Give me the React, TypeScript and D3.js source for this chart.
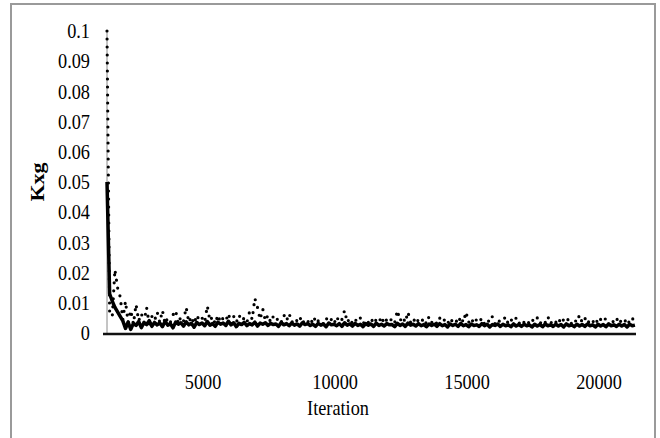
import React from "react";
import * as d3 from "d3";

// x categories (iterations), one point every 100 iterations
const iterations: number[] = d3.range(1360, 21361, 100);

const xTicks = [5000, 10000, 15000, 20000];
const yTicks = [0, 0.01, 0.02, 0.03, 0.04, 0.05, 0.06, 0.07, 0.08, 0.09, 0.1];
const yTickLabels = ["0", "0.01", "0.02", "0.03", "0.04", "0.05", "0.06", "0.07", "0.08", "0.09", "0.1"];

// dotted series
const dottedValues: number[] = [
  0.1, 0.0065, 0.0055, 0.021, 0.015, 0.012, 0.0045, 0.0105, 0.0035, 0.0075,
  0.003, 0.0095, 0.004, 0.0065, 0.0035, 0.0085, 0.003, 0.0055, 0.004, 0.007,
  0.0035, 0.0075, 0.003, 0.005, 0.0035, 0.006, 0.0075, 0.003, 0.0055, 0.004,
  0.0085, 0.0035, 0.0055, 0.003, 0.006, 0.004, 0.005, 0.0035, 0.009, 0.004,
  0.0055, 0.003, 0.006, 0.0035, 0.005, 0.004, 0.0065, 0.003, 0.0055, 0.0035,
  0.006, 0.004, 0.005, 0.0035, 0.007, 0.0045, 0.0115, 0.0085, 0.0045, 0.008,
  0.004, 0.006, 0.0035, 0.0055, 0.004, 0.005, 0.0035, 0.006, 0.004, 0.0065,
  0.0035, 0.005, 0.004, 0.0055, 0.003, 0.0045, 0.0035, 0.005, 0.003, 0.0055,
  0.004, 0.0045, 0.003, 0.005, 0.0035, 0.0045, 0.003, 0.0055, 0.0035, 0.0045,
  0.0075, 0.0035, 0.005, 0.003, 0.0045, 0.0035, 0.005, 0.003, 0.0045, 0.0035,
  0.005, 0.003, 0.0045, 0.0035, 0.0055, 0.003, 0.0045, 0.0035, 0.005, 0.0035,
  0.0075, 0.004, 0.0055, 0.0035, 0.007, 0.0035, 0.005, 0.003, 0.0045, 0.0035,
  0.005, 0.003, 0.0055, 0.0035, 0.0045, 0.003, 0.005, 0.0035, 0.0045, 0.003,
  0.005, 0.0035, 0.0045, 0.003, 0.0055, 0.0035, 0.007, 0.0035, 0.005, 0.003,
  0.0045, 0.0035, 0.005, 0.003, 0.0045, 0.0035, 0.0055, 0.003, 0.0045, 0.0035,
  0.004, 0.0055, 0.003, 0.0045, 0.0035, 0.005, 0.003, 0.0045, 0.0035, 0.0045,
  0.003, 0.0045, 0.0035, 0.005, 0.003, 0.0045, 0.0035, 0.0055, 0.003, 0.0045,
  0.0035, 0.005, 0.003, 0.0045, 0.0035, 0.005, 0.003, 0.0045, 0.0035, 0.006,
  0.0035, 0.005, 0.003, 0.0045, 0.0035, 0.005, 0.003, 0.0045, 0.0035, 0.005,
  0.003, 0.0045, 0.0035, 0.005, 0.003, 0.0045, 0.0035, 0.005, 0.003, 0.0045,
  0.0055,
];

// solid series
const solidValues: number[] = [
  0.05, 0.013, 0.0105, 0.0085, 0.007, 0.0055, 0.004, 0.0015, 0.0036, 0.0012,
  0.0032, 0.0025, 0.0038, 0.0018, 0.0034, 0.0028, 0.0041, 0.0022, 0.0035, 0.0027,
  0.0033, 0.0021, 0.0039, 0.0026, 0.0031, 0.0017, 0.0036, 0.0029, 0.0034, 0.0023,
  0.0037, 0.0027, 0.0032, 0.0019, 0.0035, 0.0028, 0.0033, 0.0024, 0.0038, 0.0026,
  0.0031, 0.0022, 0.0036, 0.0029, 0.0033, 0.0025, 0.0039, 0.0027, 0.0034, 0.0021,
  0.0032, 0.0028, 0.0035, 0.0024, 0.0031, 0.0027, 0.0036, 0.0023, 0.0033, 0.0029,
  0.0034, 0.0025, 0.0032, 0.0028, 0.003, 0.0022, 0.0035, 0.0027, 0.0031, 0.0024,
  0.0033, 0.0026, 0.003, 0.0023, 0.0034, 0.0028, 0.0031, 0.0025, 0.0029, 0.0022,
  0.0032, 0.0026, 0.003, 0.0021, 0.0033, 0.0027, 0.0029, 0.0024, 0.0031, 0.0022,
  0.0034, 0.0026, 0.003, 0.0023, 0.0032, 0.0025, 0.0029, 0.0021, 0.0031, 0.0026,
  0.003, 0.0022, 0.0033, 0.0025, 0.0029, 0.0023, 0.0031, 0.0027, 0.0028, 0.0021,
  0.0032, 0.0025, 0.003, 0.0022, 0.0033, 0.0026, 0.0029, 0.0023, 0.0031, 0.0024,
  0.0028, 0.0021, 0.003, 0.0025, 0.0029, 0.0022, 0.0031, 0.0024, 0.0028, 0.002,
  0.003, 0.0025, 0.0029, 0.0022, 0.0032, 0.0024, 0.0028, 0.0021, 0.003, 0.0025,
  0.0027, 0.0022, 0.0031, 0.0024, 0.0029, 0.002, 0.0028, 0.0025, 0.003, 0.0022,
  0.0029, 0.0024, 0.0027, 0.0021, 0.003, 0.0023, 0.0028, 0.0022, 0.0029, 0.0024,
  0.0027, 0.002, 0.0029, 0.0023, 0.0028, 0.0021, 0.003, 0.0024, 0.0027, 0.0022,
  0.0029, 0.0023, 0.0028, 0.002, 0.003, 0.0024, 0.0027, 0.0021, 0.0029, 0.0023,
  0.0028, 0.0022, 0.003, 0.0024, 0.0027, 0.002, 0.0029, 0.0023, 0.0028, 0.0021,
  0.003, 0.0024, 0.0027, 0.0022, 0.0029, 0.0023, 0.0028, 0.002, 0.0029, 0.0024,
  0.0026,
];

const W = 660;
const H = 438;
const FONT = "'Liberation Serif', 'Times New Roman', serif";
const FS = 22;
const SX = 0.83; // text appears horizontally compressed

export default function App() {
  const x = d3.scaleLinear().domain([1360, 21400]).range([107, 636]);
  const y = d3.scaleLinear().domain([0, 0.1]).range([333, 31]);

  const line = d3
    .line<number>()
    .x((_, i) => x(iterations[i]))
    .y((d) => y(d));

  return (
    <svg
      width={W}
      height={H}
      style={{ position: "absolute", left: 0, top: 0, background: "#fff" }}
    >
      <rect x={0} y={0} width={W} height={H} fill="#fff" />
      {/* outer frame */}
      <rect x={11} y={4} width={644} height={450} fill="none" stroke="#9a9a9a" strokeWidth={2} />

      {/* y axis */}
      <line x1={107} x2={107} y1={y(0.1)} y2={y(0)} stroke="#8a8a8a" strokeWidth={1} />
      {yTicks.map((t, i) => (
        <text
          key={t}
          transform={`translate(90,${y(t)}) scale(${SX},1)`}
          dy="0.33em"
          textAnchor="end"
          fontFamily={FONT}
          fontSize={FS}
          fill="#000"
        >
          {yTickLabels[i]}
        </text>
      ))}

      {/* series */}
      <path
        d={line(dottedValues) || ""}
        fill="none"
        stroke="#000"
        strokeWidth={3.2}
        strokeDasharray="0 8"
        strokeLinecap="round"
        strokeLinejoin="round"
      />
      <path
        d={line(solidValues) || ""}
        fill="none"
        stroke="#000"
        strokeWidth={3.5}
        strokeLinejoin="round"
      />

      {/* x axis */}
      <line x1={103} x2={636} y1={334} y2={334} stroke="#111" strokeWidth={2.5} />
      {xTicks.map((t) => (
        <text
          key={t}
          transform={`translate(${x(t)},382) scale(${SX},1)`}
          dy="0.33em"
          textAnchor="middle"
          fontFamily={FONT}
          fontSize={FS}
          fill="#000"
        >
          {t}
        </text>
      ))}

      <text
        transform={`translate(338,408) scale(${SX},1)`}
        dy="0.33em"
        textAnchor="middle"
        fontFamily={FONT}
        fontSize={FS}
        fill="#000"
      >
        Iteration
      </text>
      <text
        transform={`translate(38,182) scale(${SX},1) rotate(-90)`}
        dy="0.33em"
        textAnchor="middle"
        fontFamily={FONT}
        fontSize={FS}
        fontWeight="bold"
        fill="#000"
      >
        Kxg
      </text>
    </svg>
  );
}
